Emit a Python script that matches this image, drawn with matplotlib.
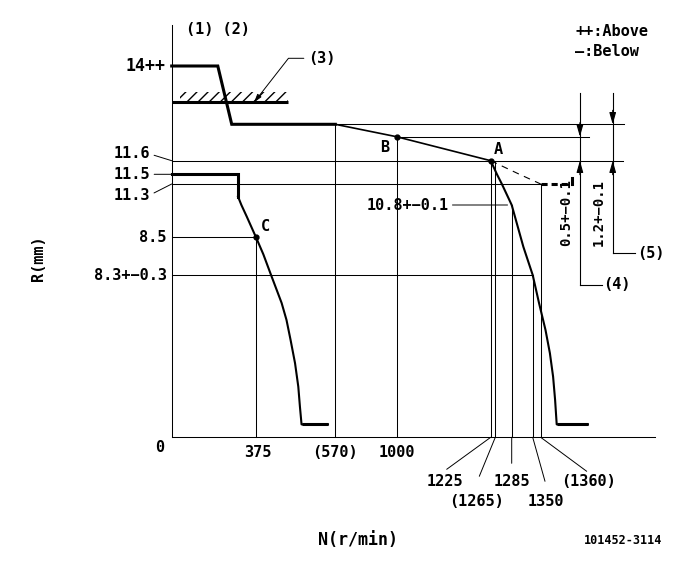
import numpy as np
import matplotlib
matplotlib.use("Agg")
import matplotlib.pyplot as plt
from matplotlib.patches import Rectangle

# ---------------- data ----------------
speed_ticks = [375, 570, 1000, 1225, 1265, 1285, 1350, 1360]
speed_labels = ["375", "(570)", "1000", "1225", "(1265)", "1285", "1350", "(1360)"]
rack_ticks = [14, 11.6, 11.5, 11.3, 8.5, 8.3, 0]
rack_labels = ["14++", "11.6", "11.5", "11.3", "8.5", "8.3+\u22120.3", "0"]

# full-load part of the curve
full_rpm = [0, 205, 267, 570]
full_mm = [14, 14, 12.8, 12.8]
# torque-control slope through B and A
slope_rpm = [570, 1000, 1225]
slope_mm = [12.8, 12.1, 11.6]
# high-speed governor cut
gov_rpm = [1225, 1267, 1273, 1285, 1321, 1350, 1358, 1372, 1383,
           1391, 1396, 1400, 1478]
gov_mm = [11.6, 11.5, 11.3, 10.8, 8.45, 8.3, 6.85, 5.49, 4.30,
          3.10, 1.91, 0.66, 0.66]
# idle part
idle_flat_rpm = [0, 295, 295]
idle_flat_mm = [11.5, 11.5, 11.0]
idle_rpm = [295, 310, 334, 375, 393, 412, 426, 438, 450, 460, 471, 479, 483, 487, 552]
idle_mm = [11.0, 10.8, 9.97, 8.5, 8.41, 8.3, 7.53, 6.87, 6.0, 4.98, 3.79, 2.59,
           1.57, 0.66, 0.66]
# dashed variant
dash_rpm = [1225, 1309, 1360]
dash_mm = [11.6, 11.5, 11.3]
end_rpm = [1360, 1437]
end_mm = [11.3, 11.3]
end_tick_mm = [11.3, 11.42]
# stopper (3)
stop_mm = 13.25
stop_top_mm = 13.47
stop_rpm = [0, 454]
hatch_start_rpm = 35
# points
pt_names = ["B", "A", "C"]
pt_rpm = [1000, 1225, 375]
pt_mm = [12.1, 11.6, 8.5]
# guide lines
v_guides = [(375, 8.5), (570, 12.8), (1000, 12.1), (1225, 11.6), (1265, 11.6),
            (1285, 10.8), (1350, 8.3), (1360, 11.3)]
h_guides = [(8.5, 0, 375), (8.3, 0, 1350), (11.3, 0, 1360), (11.6, 0, 1566),
            (12.1, 1000, 1481), (12.8, 570, 1568)]
axis_rpm_end = 1646
axis_mm_top = 14.84
# dimensions (4) and (5)
dim4_rpm, dim4_from, dim4_to, dim4_low = 1458, 12.1, 11.6, 7.79
dim5_rpm, dim5_from, dim5_to, dim5_low = 1540, 12.8, 11.6, 8.415
dim_top = 13.44
dim4_leader_end = 1512
dim5_leader_end = 1596

# ---------------- schematic scales (not to scale drawing) ----------------
W, H = 681, 562
x_knot_val = np.array([-1000, 0, 375, 570, 1000, 1225, 1265, 1285, 1350, 1360, 2000])
x_knot_pos = np.array([-53.1, 171.7, 256, 335.3, 396.5, 490.7, 495.3, 511.7, 532.7, 540.7, 796.7])
y_knot_val = np.array([-30, 0, 8.3, 8.5, 10.8, 11.3, 11.5, 11.6, 12.1, 12.8, 14, 30])
y_knot_pos = H - np.array([1023.8, 437.3, 275, 237.3, 205, 184, 174.3, 160.7, 136.7, 124.3, 66, -711.6])


def fx(v):
    return np.interp(v, x_knot_val, x_knot_pos)


def ix(p):
    return np.interp(p, x_knot_pos, x_knot_val)


def fy(v):
    return np.interp(v, y_knot_val, y_knot_pos)


def iy(p):
    return np.interp(p, y_knot_pos, y_knot_val)


plt.rcParams["font.family"] = ["DejaVu Sans Mono", "DejaVu Sans"]
plt.rcParams["hatch.linewidth"] = 1.0

fig = plt.figure(figsize=(W / 100, H / 100), dpi=100)
ax = fig.add_axes([0, 0, 1, 1])
ax.set_axis_off()
ax.set_xscale("function", functions=(fx, ix))
ax.set_yscale("function", functions=(fy, iy))
ax.set_xlim(ix(0), ix(W))
ax.set_ylim(iy(0), iy(H))

K = "black"
THICK, MID, THIN = 2.2, 1.5, 0.75
FS = 11

# axes
ax.plot([0, axis_rpm_end], [0, 0], color=K, lw=THIN)
ax.plot([0, 0], [0, axis_mm_top], color=K, lw=THIN)

# guides
for r, top in v_guides:
    ax.plot([r, r], [0, top], color=K, lw=THIN)
for m, r0, r1 in h_guides:
    ax.plot([r0, r1], [m, m], color=K, lw=THIN)

# stopper with hatching
ax.add_patch(Rectangle((hatch_start_rpm, stop_mm), stop_rpm[1] - hatch_start_rpm,
                       stop_top_mm - stop_mm, fill=False, hatch="///",
                       edgecolor=K, linewidth=0))
ax.plot(stop_rpm, [stop_mm, stop_mm], color=K, lw=THICK, solid_capstyle="butt")

# curves
ax.plot(full_rpm, full_mm, color=K, lw=THICK, solid_joinstyle="miter")
ax.plot(slope_rpm, slope_mm, color=K, lw=1.2)
ax.plot(gov_rpm, gov_mm, color=K, lw=MID)
ax.plot(gov_rpm[-2:], gov_mm[-2:], color=K, lw=THICK, solid_capstyle="butt")
ax.plot(idle_flat_rpm, idle_flat_mm, color=K, lw=THICK, solid_joinstyle="miter")
ax.plot(idle_rpm, idle_mm, color=K, lw=MID)
ax.plot(idle_rpm[-2:], idle_mm[-2:], color=K, lw=THICK, solid_capstyle="butt")
ax.plot(dash_rpm, dash_mm, color=K, lw=0.8, ls=(0, (6, 5)))
ax.plot(end_rpm, end_mm, color=K, lw=THICK, ls=(0, (2, 1.3)))
ax.plot([end_rpm[-1]] * 2, end_tick_mm, color=K, lw=THICK)

# points
ax.plot(pt_rpm, pt_mm, "o", color=K, ms=3.5)
pt_offsets = [(-11.5, -10.3), (7.6, 10.7), (9, 10.6)]
for n, r, m, off in zip(pt_names, pt_rpm, pt_mm, pt_offsets):
    ax.annotate(n, xy=(r, m), xytext=off, textcoords="offset pixels",
                ha="center", va="center", fontsize=FS, fontweight="bold")

# y tick labels
y_off = {"14++": (-6, 0), "11.6": (-21.7, 6.7), "11.5": (-21.7, 0),
         "11.3": (-21.7, -11), "8.5": (-5, 0), "8.3+\u22120.3": (-5, 0),
         "0": (-11.7, -10)}
for v, lab in zip(rack_ticks, rack_labels):
    off = y_off[lab]
    leader = lab in ("11.6", "11.5", "11.3")
    ha = "center" if lab == "0" else "right"
    ap = dict(arrowstyle="-", color=K, lw=0.7, shrinkA=1, shrinkB=0,
              relpos=(1, 0.5)) if leader else None
    ax.annotate(lab, xy=(0, v), xytext=off, textcoords="offset pixels",
                ha=ha, va="center", fontsize=FS + (1 if lab == "14++" else 0),
                fontweight="bold", arrowprops=ap)

# x tick labels
x_text_off = {375: (2, -15), 570: (0, -15), 1000: (0, -15),
              1225: (-45.7, -44.4), 1265: (-18.6, -64), 1285: (0, -44.4),
              1350: (13.3, -64), 1360: (47.3, -44.4)}
x_lead_off = {1225: (-44, -32), 1265: (-16, -39), 1285: (0, -26),
              1350: (12.3, -44), 1360: (46, -34)}
for v, lab in zip(speed_ticks, speed_labels):
    ax.annotate(lab, xy=(v, 0), xytext=x_text_off[v], textcoords="offset pixels",
                ha="center", va="center", fontsize=FS, fontweight="bold")
    if v in x_lead_off:
        ax.annotate("", xy=(v, 0), xytext=x_lead_off[v], textcoords="offset pixels",
                    arrowprops=dict(arrowstyle="-", color=K, lw=0.7,
                                    shrinkA=0, shrinkB=0))

# 10.8 label with leader
ax.annotate("10.8+\u22120.1", xy=(1285, 10.8), xytext=(-63.4, 0),
            textcoords="offset pixels", ha="right", va="center",
            fontsize=FS, fontweight="bold",
            arrowprops=dict(arrowstyle="-", color=K, lw=0.7, shrinkA=1,
                            shrinkB=-3, relpos=(1, 0.5)))

# dimension lines
arrow_kw = dict(arrowstyle="-|>,head_length=0.7,head_width=0.2", color=K,
                lw=0.8, shrinkA=0, shrinkB=0, mutation_scale=10)
for r, a, b, low, lead_end, lab, tx in [
        (dim4_rpm, dim4_from, dim4_to, dim4_low, dim4_leader_end, "(4)", "0.5+\u22120.1"),
        (dim5_rpm, dim5_from, dim5_to, dim5_low, dim5_leader_end, "(5)", "1.2+\u22120.1")]:
    ax.plot([r, r], [dim_top, low], color=K, lw=0.8)
    ax.plot([r, lead_end], [low, low], color=K, lw=0.8)
    ax.annotate("", xy=(r, a), xytext=(0, 14), textcoords="offset pixels",
                arrowprops=arrow_kw)
    ax.annotate("", xy=(r, b), xytext=(0, -14), textcoords="offset pixels",
                arrowprops=arrow_kw)
    ax.annotate(lab, xy=(lead_end, low), xytext=(2, 0), textcoords="offset pixels",
                ha="left", va="center", fontsize=FS, fontweight="bold")
    ax.annotate(tx, xy=(r, 11.6), xytext=(-14, -51.3), textcoords="offset pixels",
                ha="center", va="center", rotation=90, fontsize=FS - 1,
                fontweight="bold")

# (3) leader to the stopper
ax.annotate("(3)", xy=(366, stop_mm), xytext=(308, H - 58.3),
            textcoords="figure pixels", ha="left", va="center",
            fontsize=FS, fontweight="bold",
            arrowprops=dict(arrowstyle="-|>,head_length=0.5,head_width=0.15",
                            connectionstyle="angle,angleA=0,angleB=52,rad=0",
                            color=K, lw=0.7, shrinkA=1, shrinkB=0,
                            relpos=(0, 0.5), mutation_scale=10))

# free texts
fig.text(186 / W, 1 - 30 / H, "(1) (2)", ha="left", va="center",
         fontsize=FS, fontweight="bold")
fig.text(575 / W, 1 - 31 / H, "++:Above", ha="left", va="center",
         fontsize=FS, fontweight="bold")
fig.text(575 / W, 1 - 51 / H, "\u2014:Below", ha="left", va="center",
         fontsize=FS, fontweight="bold")
fig.text(38 / W, 1 - 258 / H, "R(mm)", ha="center", va="center", rotation=90,
         fontsize=FS, fontweight="bold")
fig.text(358 / W, 1 - 540 / H, "N(r/min)", ha="center", va="center",
         fontsize=FS + 1, fontweight="bold")
fig.text(623 / W, 1 - 540 / H, "101452-3114", ha="center", va="center",
         fontsize=FS - 2.5, fontweight="bold")

fig.savefig("out.png", dpi=100)
